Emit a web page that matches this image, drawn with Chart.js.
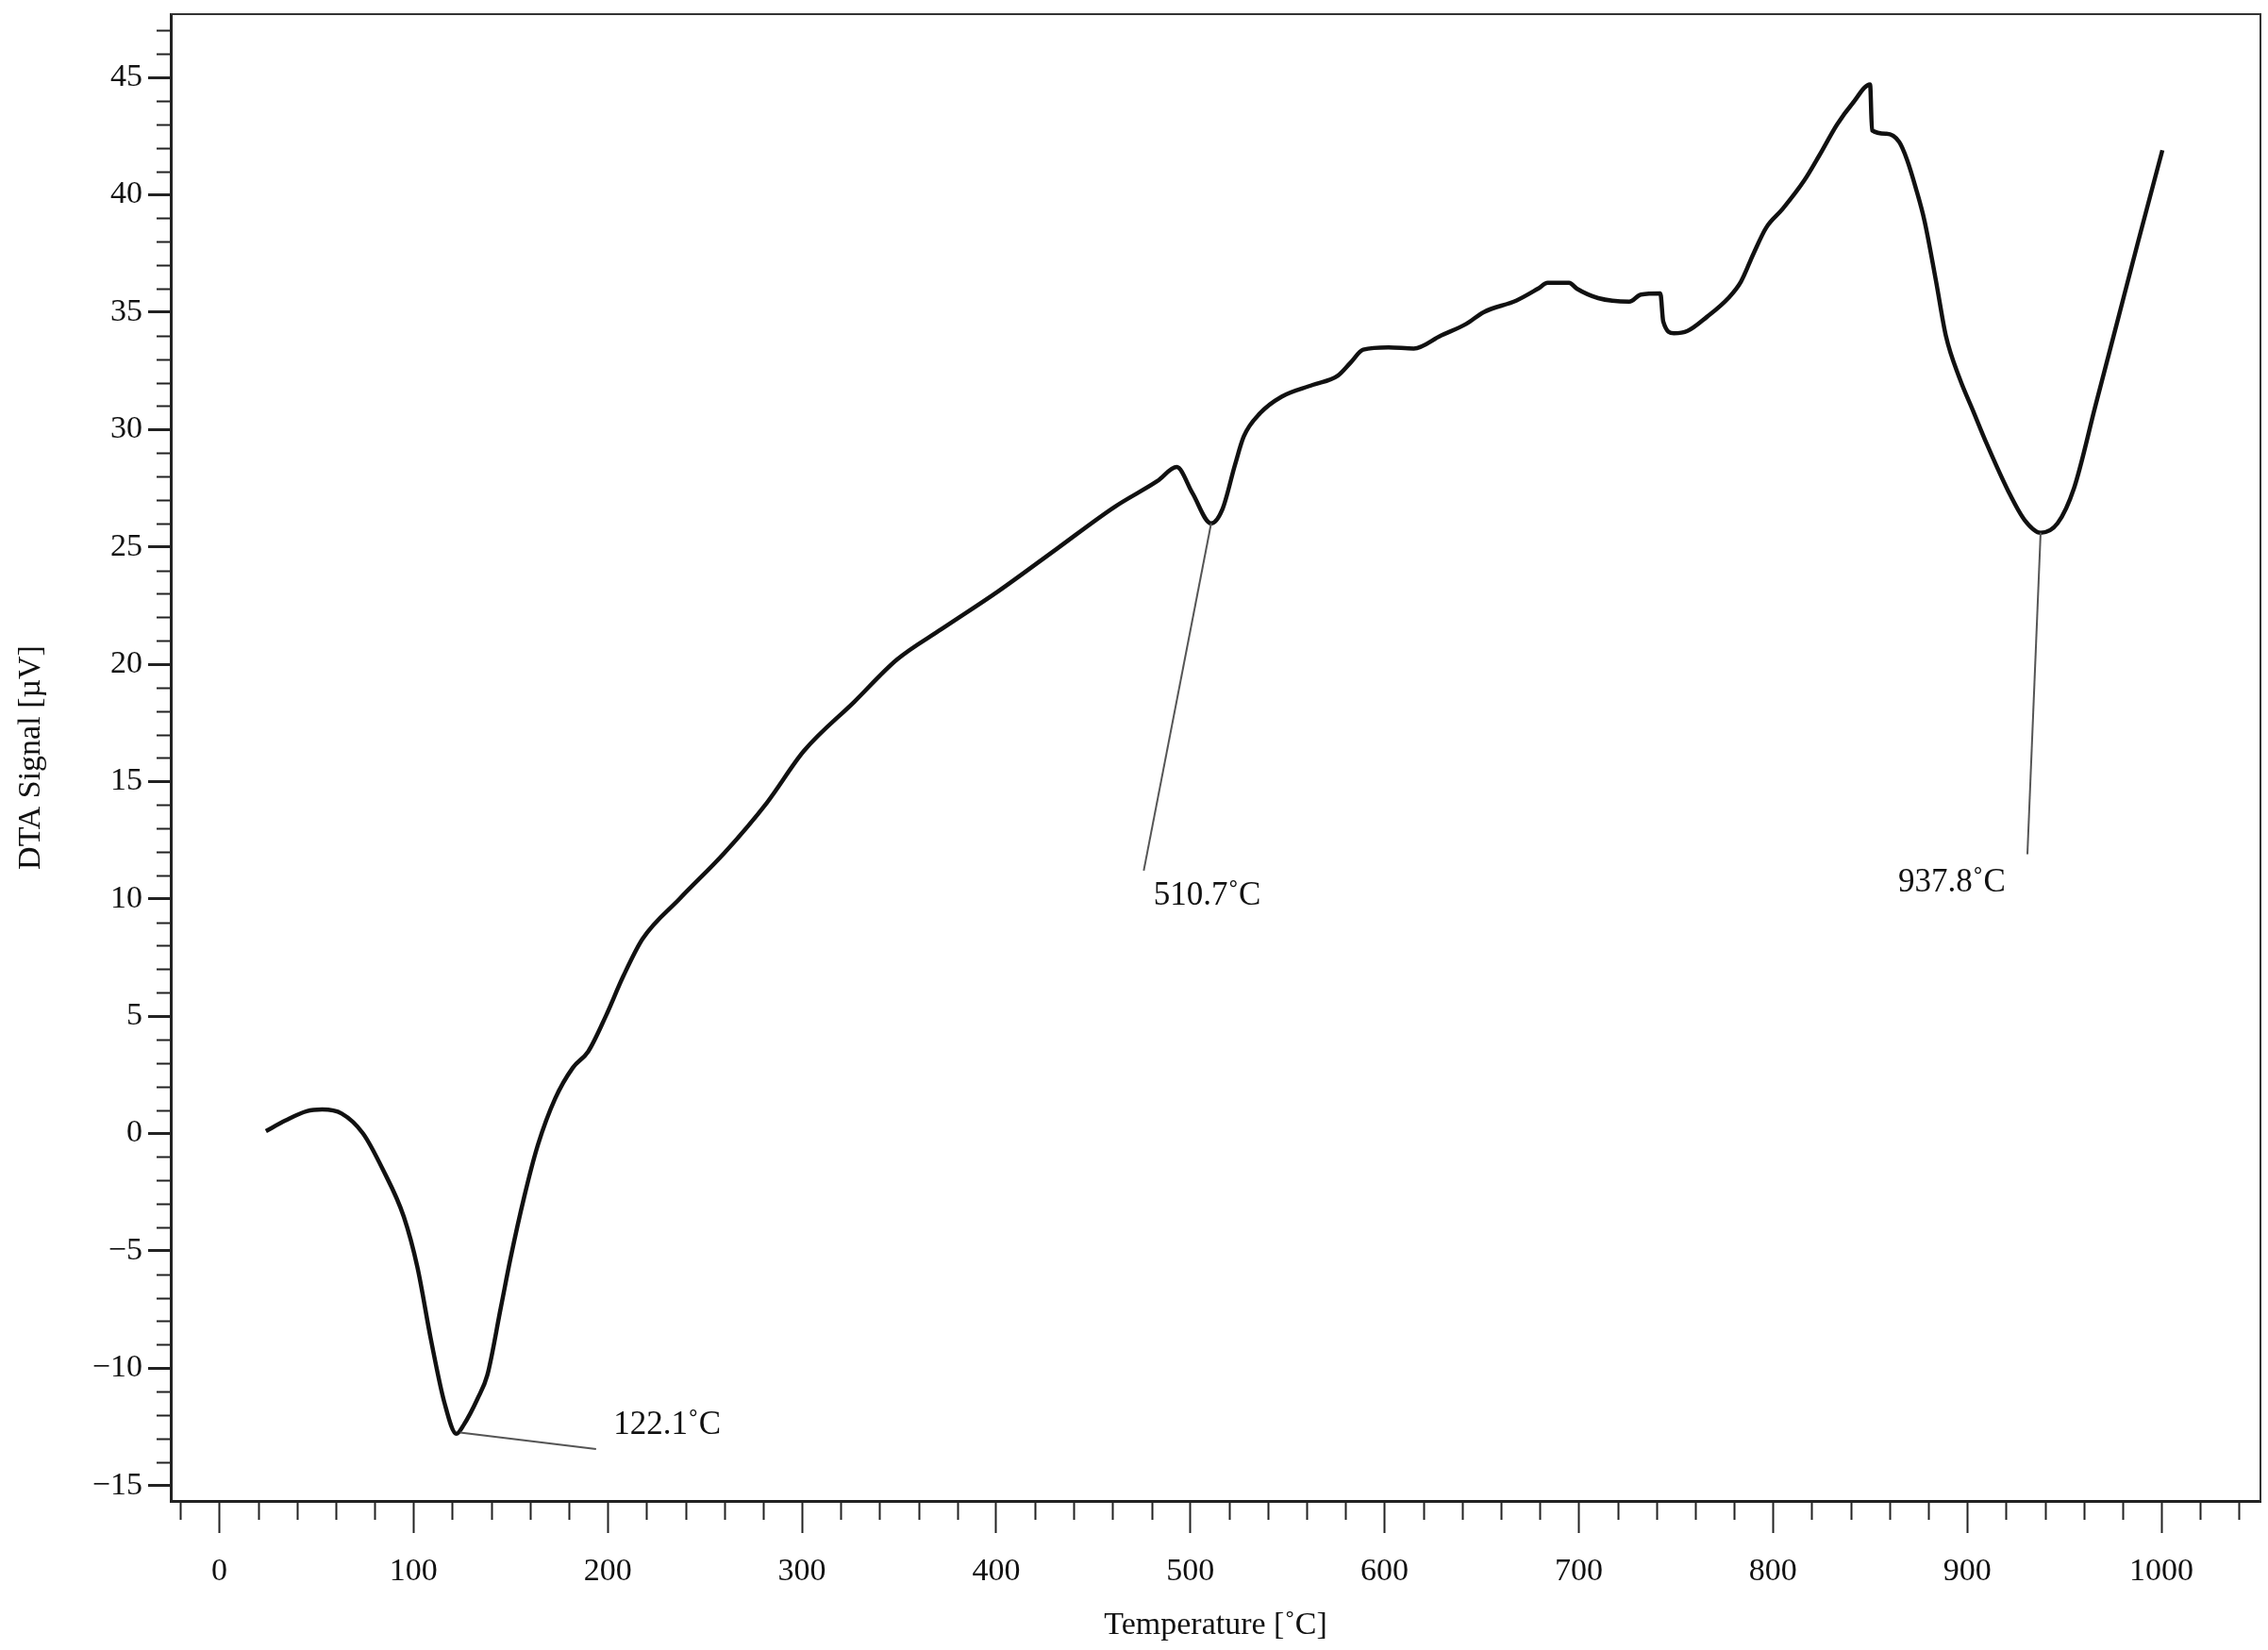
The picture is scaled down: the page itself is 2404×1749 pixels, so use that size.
<!DOCTYPE html>
<html>
<head>
<meta charset="utf-8">
<script src="https://cdn.jsdelivr.net/npm/chart.js@4.4.1/dist/chart.umd.min.js"></script>
<style>
  html, body { margin: 0; padding: 0; background: #fff; }
  #wrap { width: 2404px; height: 1749px; }
</style>
</head>
<body>
<div id="wrap"><canvas id="dtaChart" width="2404" height="1749"></canvas></div>
<script>
// DTA curve
const temperature = [
  24, 34, 45, 53, 63, 74, 84, 95, 102, 109, 116, 122.1, 126, 133, 138, 145, 150, 157, 164,
  173, 182, 190, 199, 208, 218, 237, 260, 282, 301, 327, 349, 372, 401, 431, 461, 483, 493,
  501, 510.7, 516.5, 523, 527.5, 536, 547, 563, 576, 582.5, 589, 602, 615, 629, 642, 651,
  668, 679, 684, 695, 699, 710, 726, 732, 742, 743.5, 749, 756, 766, 777, 783.5, 790, 796.5,
  805, 816, 824, 833, 841, 850, 851, 858.5, 865, 869, 873.5, 878, 884, 889, 896, 903,
  910, 921, 929.5, 937.8, 946.5, 955, 966, 977, 988, 1000.5
];
const signal = [
  0.1, 0.55, 0.95, 1.02, 0.85, 0.0, -1.5, -3.55, -5.7, -8.8, -11.5, -12.8, -12.4, -11.3, -10.3, -7.4, -5.3, -2.7, -0.5,
  1.5, 2.8, 3.5, 5.0, 6.7, 8.3, 10.0, 11.95, 14.1, 16.3, 18.4, 20.2, 21.5, 23.1, 24.9, 26.7, 27.8, 28.4,
  27.3, 26.0, 26.6, 28.5, 29.7, 30.7, 31.4, 31.9, 32.3, 32.85, 33.4, 33.5, 33.45, 34.0, 34.5, 35.0,
  35.5, 36.0, 36.25, 36.25, 36.0, 35.6, 35.45, 35.75, 35.8, 34.6, 34.1, 34.2, 34.8, 35.6, 36.3, 37.5, 38.6,
  39.4, 40.6, 41.7, 43.0, 43.9, 44.7, 42.75, 42.6, 42.25, 41.5, 40.3, 38.9, 36.3, 34.0, 32.2, 30.8,
  29.4, 27.4, 26.15, 25.6, 26.0, 27.5, 31.0, 34.5, 38.0, 41.9
];

// peak labels: leader from the peak to the text
const peakLabels = ['122.1˚C', '510.7˚C', '937.8˚C'];
const leaderFrom = [[124, -12.75], [510.7, 26.0], [937.8, 25.6]];
const leaderTo = [[194, -13.45], [476, 11.2], [931, 11.9]];
const labelAt = [[203, -12.45], [481, 10.1], [864.5, 10.7]];

const xMajorTicks = [0, 100, 200, 300, 400, 500, 600, 700, 800, 900, 1000];
const yMajorTicks = [-15, -10, -5, 0, 5, 10, 15, 20, 25, 30, 35, 40, 45];

const xMinorTicks = [];
for (let v = -20; v <= 1040; v += 20) if (v % 100 !== 0) xMinorTicks.push(v);
const yMinorTicks = [];
for (let v = -15; v <= 47; v += 1) if (v % 5 !== 0) yMinorTicks.push(v);

const serif = 'Liberation Serif';
const ink = '#111';

const decorations = {
  id: 'decorations',
  afterDraw(chart) {
    const { ctx, chartArea: a, scales: { x, y } } = chart;
    ctx.save();

    // top and right frame
    ctx.strokeStyle = '#333';
    ctx.lineWidth = 2;
    ctx.beginPath();
    ctx.moveTo(a.left, a.top);
    ctx.lineTo(a.right, a.top);
    ctx.lineTo(a.right, a.bottom);
    ctx.stroke();

    // minor ticks
    ctx.strokeStyle = '#222';
    ctx.lineWidth = 2;
    ctx.beginPath();
    xMinorTicks.forEach(v => {
      const px = Math.round(x.getPixelForValue(v)) + 0.5;
      ctx.moveTo(px, a.bottom);
      ctx.lineTo(px, a.bottom + 20);
    });
    yMinorTicks.forEach(v => {
      const py = Math.round(y.getPixelForValue(v)) + 0.5;
      ctx.moveTo(a.left - 15, py);
      ctx.lineTo(a.left, py);
    });
    ctx.stroke();

    // peak annotations
    ctx.strokeStyle = '#555';
    ctx.lineWidth = 2;
    ctx.fillStyle = ink;
    ctx.font = `35px "${serif}"`;
    ctx.textAlign = 'left';
    ctx.textBaseline = 'middle';
    peakLabels.forEach((txt, i) => {
      ctx.beginPath();
      ctx.moveTo(x.getPixelForValue(leaderFrom[i][0]), y.getPixelForValue(leaderFrom[i][1]));
      ctx.lineTo(x.getPixelForValue(leaderTo[i][0]), y.getPixelForValue(leaderTo[i][1]));
      ctx.stroke();
      ctx.fillText(txt, x.getPixelForValue(labelAt[i][0]), y.getPixelForValue(labelAt[i][1]));
    });
    ctx.restore();
  }
};

const fmt = v => (v < 0 ? '\u2212' + Math.abs(v) : String(v));

new Chart(document.getElementById('dtaChart'), {
  type: 'line',
  data: {
    datasets: [{
      data: temperature.map((t, i) => ({ x: t, y: signal[i] })),
      borderColor: ink,
      borderWidth: 4.5,
      pointRadius: 0,
      fill: false,
      cubicInterpolationMode: 'monotone'
    }]
  },
  options: {
    responsive: false,
    animation: false,
    devicePixelRatio: 1,
    layout: { padding: { top: 15, right: 8, left: 0, bottom: 0 } },
    plugins: { legend: { display: false }, tooltip: { enabled: false } },
    scales: {
      x: {
        type: 'linear',
        min: -25,
        max: 1051,
        afterBuildTicks: s => { s.ticks = xMajorTicks.map(v => ({ value: v })); },
        afterFit: s => { s.height = 158; s.paddingLeft = 0; s.paddingRight = 0; },
        grid: { drawOnChartArea: false, tickLength: 34, tickColor: '#222', tickWidth: 2 },
        border: { display: true, color: '#222', width: 3 },
        ticks: {
          autoSkip: false, maxRotation: 0, padding: 21, color: ink,
          font: { family: serif, size: 34 },
          callback: v => fmt(v)
        },
        title: {
          display: true, text: 'Temperature [˚C]', color: ink,
          font: { family: serif, size: 34 }, padding: { top: 0, bottom: 6 }
        }
      },
      y: {
        type: 'linear',
        min: -15.66,
        max: 47.7,
        afterBuildTicks: s => { s.ticks = yMajorTicks.map(v => ({ value: v })); },
        afterFit: s => { s.width = 181; s.paddingTop = 0; s.paddingBottom = 0; },
        grid: { drawOnChartArea: false, tickLength: 24, tickColor: '#222', tickWidth: 3 },
        border: { display: true, color: '#222', width: 3 },
        ticks: {
          autoSkip: false, padding: 6, color: ink,
          font: { family: serif, size: 34 },
          callback: v => fmt(v)
        },
        title: {
          display: true, text: 'DTA Signal [µV]', color: ink,
          font: { family: serif, size: 34 }, padding: { top: 13, bottom: 0 }
        }
      }
    }
  },
  plugins: [decorations]
});
</script>
</body>
</html>
